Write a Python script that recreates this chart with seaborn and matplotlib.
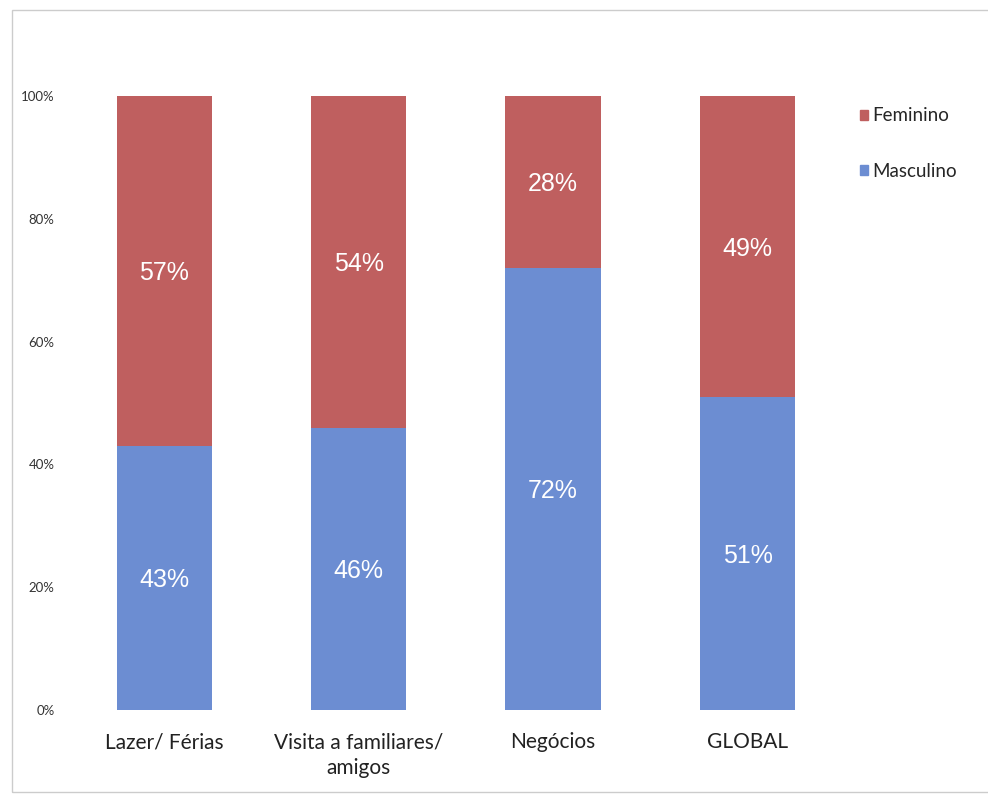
import matplotlib
matplotlib.use("Agg")
import pandas as pd
import seaborn as sns
import matplotlib.pyplot as plt
import matplotlib.patches as mpatches
from matplotlib.ticker import FuncFormatter

# data
categories = ["Lazer/ Férias", "Visita a familiares/\namigos", "Negócios", "GLOBAL"]
masculino = [43, 46, 72, 51]
feminino = [57, 54, 28, 49]

color_fem = "#BF5F5F"
color_masc = "#6C8DD2"

df = pd.DataFrame({"categoria": categories, "Masculino": masculino, "Feminino": feminino})
df["total"] = df["Masculino"] + df["Feminino"]

sns.set_style("white")
plt.rcParams["font.family"] = ["Lato", "DejaVu Sans"]

fig = plt.figure(figsize=(9.88, 7.94), dpi=100)
ax = fig.add_axes([0.0678, 0.1058, 0.7872, 0.7733])

# stacked bars: total drawn first (red), masculino on top (blue)
sns.barplot(data=df, x="categoria", y="total", color=color_fem, width=0.49,
            saturation=1, linewidth=0, ax=ax)
sns.barplot(data=df, x="categoria", y="Masculino", color=color_masc, width=0.49,
            saturation=1, linewidth=0, ax=ax)

for i, (m, f) in enumerate(zip(masculino, feminino)):
    ax.text(i, m / 2, f"{m}%", ha="center", va="center_baseline", color="white",
            fontsize=18, family=["Liberation Sans", "DejaVu Sans"])
    ax.text(i, m + f / 2, f"{f}%", ha="center", va="center_baseline", color="white",
            fontsize=18, family=["Liberation Sans", "DejaVu Sans"])

ax.set_ylim(0, 100)
ax.set_xlim(-0.5, 3.5)
ax.set_yticks([0, 20, 40, 60, 80, 100])
ax.yaxis.set_major_formatter(FuncFormatter(lambda v, p: f"{int(v)}%"))
ax.tick_params(axis="y", labelsize=9.5, length=0, pad=9)
ax.tick_params(axis="x", labelsize=15, length=0, pad=16)
for lab in ax.get_yticklabels():
    lab.set_color("#333333")
for lab in ax.get_xticklabels():
    lab.set_color("#222222")
    lab.set_linespacing(1.35)
ax.set_xlabel("")
ax.set_ylabel("")
for s in ax.spines.values():
    s.set_visible(False)

handles = [
    mpatches.Patch(color=color_fem, label="Feminino"),
    mpatches.Patch(color=color_masc, label="Masculino"),
]
fig.legend(handles=handles, loc="upper left", bbox_to_anchor=(0.853, 0.886),
           frameon=False, fontsize=13.5, handlelength=0.45, handleheight=0.45,
           handletextpad=0.2, labelspacing=2.05)

# faint frame around the picture
fig.patches.append(mpatches.Rectangle((0.012, 0.003), 0.99, 0.984, transform=fig.transFigure,
                                      fill=False, edgecolor="#cccccc", linewidth=1))

fig.savefig("out.png", dpi=100)
